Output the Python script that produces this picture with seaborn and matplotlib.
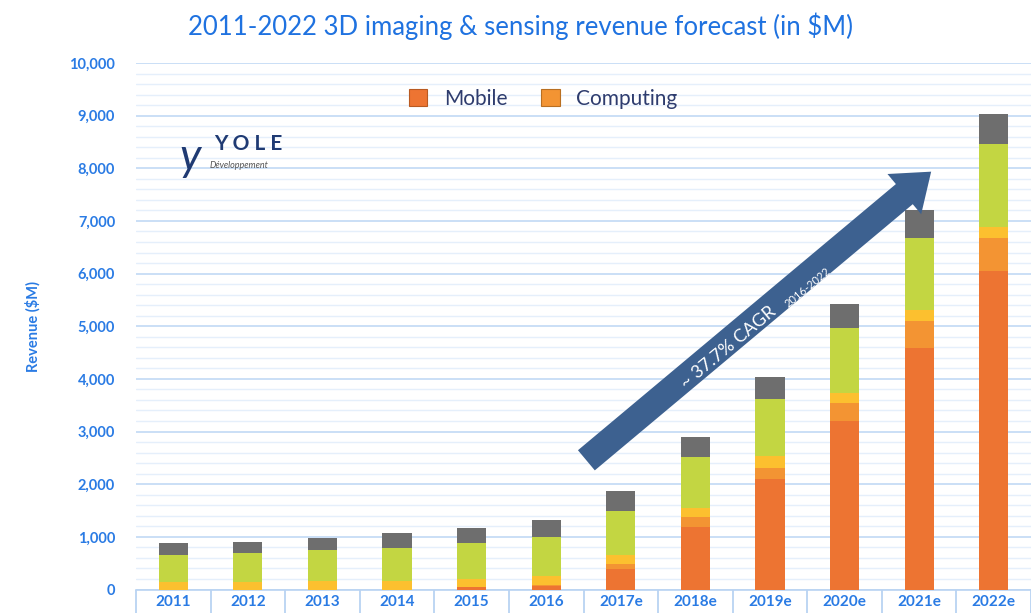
import numpy as np
import pandas as pd
import matplotlib.pyplot as plt
import seaborn as sns
from matplotlib.patches import FancyArrowPatch, Patch
from matplotlib.ticker import FuncFormatter, MultipleLocator

years = ["2011", "2012", "2013", "2014", "2015", "2016",
         "2017e", "2018e", "2019e", "2020e", "2021e", "2022e"]
mobile = [0, 0, 0, 0, 40, 60, 385, 1185, 2090, 3200, 4595, 6050]
computing = [0, 0, 0, 0, 0, 25, 95, 185, 210, 345, 505, 625]
segment_3 = [137, 137, 161, 161, 154, 177, 175, 180, 245, 180, 205, 210]
segment_4 = [524, 551, 589, 621, 683, 741, 840, 970, 1065, 1240, 1370, 1585]
segment_5 = [216, 220, 222, 285, 285, 317, 375, 370, 430, 465, 525, 555]

series_names = ["Mobile", "Computing", "Segment 3", "Segment 4", "Segment 5"]
colors = ["#ED7432", "#F39433", "#FCC02F", "#C3D642", "#6E6E6E"]

df = pd.DataFrame({"year": years, "Mobile": mobile, "Computing": computing,
                   "Segment 3": segment_3, "Segment 4": segment_4, "Segment 5": segment_5})
cum = df[series_names].cumsum(axis=1)

sns.set_style("white")
plt.rcParams['font.family'] = ['Lato', 'DejaVu Sans']

blue = "#2A7BE4"
grid_major = "#C6DCF6"
grid_minor = "#E5EFFB"

fig = plt.figure(figsize=(10.31, 6.13), dpi=100)
ax = fig.add_axes([136 / 1031, 23.5 / 613, (1031 - 136) / 1031, 526.5 / 613])

# stacked bars: draw cumulative totals from the top down
for name, col in reversed(list(zip(series_names, colors))):
    sns.barplot(x=df["year"], y=cum[name], color=col, width=0.39,
                saturation=1, linewidth=0, ax=ax, zorder=3)

ax.set_xlim(-0.5, 11.4)
ax.set_ylim(0, 10000)

# grid
ax.yaxis.set_major_locator(MultipleLocator(1000))
ax.yaxis.set_minor_locator(MultipleLocator(200))
ax.grid(which="major", axis="y", color=grid_major, linewidth=1.3, zorder=0)
ax.grid(which="minor", axis="y", color=grid_minor, linewidth=1.0, zorder=0)
ax.grid(axis="x", visible=False)
ax.set_axisbelow(True)

ax.yaxis.set_major_formatter(FuncFormatter(lambda v, p: f"{int(v):,}"))
ax.tick_params(axis="y", which="both", length=0, pad=15, labelsize=10.5,
               labelcolor=blue)
for lbl in ax.get_yticklabels():
    lbl.set_fontweight("bold")

# category "table" under the bars
for s in ["left", "right", "top"]:
    ax.spines[s].set_visible(False)
ax.spines["bottom"].set_color("#B9D3F2")
ax.spines["bottom"].set_linewidth(1.2)
ax.set_xticks(np.arange(-0.5, 12, 1), minor=True)
ax.tick_params(axis="x", which="minor", bottom=True, length=26, color="#B9D3F2", width=1.3)
ax.tick_params(axis="x", which="major", bottom=True, length=0, pad=4, labelsize=11,
               labelcolor=blue)
for lbl in ax.get_xticklabels():
    lbl.set_fontweight("bold")

ax.set_xlabel("")
ax.set_ylabel("Revenue ($M)", color=blue, fontsize=10.5, fontweight="bold")
ax.yaxis.set_label_coords(-0.107, 0.5)

fig.text(520 / 1031, 1 - 26 / 613, "2011-2022 3D imaging & sensing revenue forecast (in $M)",
         ha="center", va="center", fontsize=18.5, color="#1F72E0")

# legend
handles = [Patch(facecolor=colors[0], edgecolor="#B85A22", linewidth=0.8),
           Patch(facecolor=colors[1], edgecolor="#B86F22", linewidth=0.8)]
leg = ax.legend(handles, ["Mobile", "Computing"], ncol=2, frameon=False,
                loc="center", bbox_to_anchor=((543 - 136) / 895, (589.5 - 99) / 526.5),
                fontsize=15, handlelength=0.9, handleheight=0.9,
                columnspacing=1.6, handletextpad=0.8, labelcolor="#2E3C6E")

# logo
ax.text(0.55, 8460, "Y O L E", fontsize=15, fontweight="bold", color="#1F3A73",
        ha="left", va="center", zorder=5)
ax.text(0.22, 8200, "y", fontsize=32, fontstyle="italic", color="#1F3A73",
        ha="center", va="center", zorder=5)
ax.text(0.48, 8060, "Développement", fontsize=6.5, fontstyle="italic", color="#555555",
        ha="left", va="center", zorder=5)

# CAGR arrow
arrow = FancyArrowPatch((5.51, 2420), (10.19, 7970),
                        arrowstyle="simple,head_width=2.1,head_length=1.4,tail_width=1.05",
                        mutation_scale=18, color="#3D6190", linewidth=0, zorder=6)
ax.add_patch(arrow)
ax.text(7.44, 4590, "~ 37.7% CAGR", rotation=39.7, rotation_mode="anchor",
        ha="center", va="center", color="white", fontsize=13, zorder=7)
ax.text(8.5, 5740, "2016-2022", rotation=39.7, rotation_mode="anchor",
        ha="center", va="center", color="white", fontsize=8, zorder=7)

fig.savefig("out.png", dpi=100)
